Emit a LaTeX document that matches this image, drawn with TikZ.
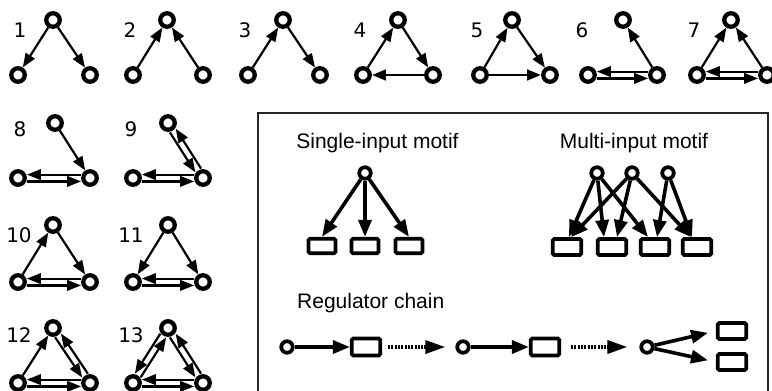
\documentclass[tikz,border=0pt]{standalone}
\usepackage{fontspec}
\setmainfont{DejaVu Sans}
\newfontfamily\helv{Liberation Sans}
\usetikzlibrary{arrows.meta}
\begin{document}
\begin{tikzpicture}[x=1pt,y=-1pt,
  nd/.style={circle,draw,line width=4.3pt,minimum size=13.5pt,inner sep=0pt},
  sn/.style={circle,draw,line width=3.8pt,minimum size=11.5pt,inner sep=0pt},
  bx/.style={rectangle,draw,line width=3.8pt,rounded corners=1.5pt,minimum width=27pt,minimum height=14.5pt,inner sep=0pt},
  arr/.style={line width=2.2pt,-{Triangle[length=14pt,width=10.5pt]}},
  barr/.style={line width=3.6pt,-{Triangle[length=17pt,width=13pt]}},
  darr/.style={line width=3.6pt,dash pattern=on 2pt off 1.3pt,-{Triangle[length=20pt,width=13pt]}},
  hu/.style={transform canvas={yshift=3.4pt}},
  hd/.style={transform canvas={yshift=-3.4pt}},
  rL/.style={transform canvas={xshift=-2.9pt,yshift=-1.85pt}},
  rR/.style={transform canvas={xshift=2.9pt,yshift=1.85pt}},
  lL/.style={transform canvas={xshift=-2.9pt,yshift=1.85pt}},
  lR/.style={transform canvas={xshift=2.9pt,yshift=-1.85pt}},
  lab/.style={font=\fontsize{20}{23}\selectfont,inner sep=0pt},
  ttl/.style={font=\helv\fontsize{21}{24}\selectfont,inner sep=0pt}
]
\useasboundingbox (0,0) rectangle (772,391);
% box
\draw[line width=1.3pt,black!85] (258,113) rectangle (768,420);

% triad nodes: id / top x / top y / left x / right x / bottom y / label x / label y
\foreach \n/\tx/\ty/\lx/\rx/\by/\ax/\ay in {
  1/53/20/18/90/75/20/30, 2/167/20/133/203/75/130/30, 3/283/20/248/320/75/245/30,
  4/398/20/363/433/75/360/30, 5/512/20/480/550/75/477/30, 6/623/20/588/657/75/582/30,
  7/731/20/697/767/75/694/30,
  8/55/123/18/90/178/20/129, 9/168/123/133/203/178/131/129,
  10/53/225/18/90/282/19/235, 11/168/225/133/203/282/131/235,
  12/53/328/18/90/383/19/335, 13/168/328/133/203/383/131/335}{
  \node[nd] (m\n t) at (\tx,\ty) {};
  \node[nd] (m\n l) at (\lx,\by) {};
  \node[nd] (m\n r) at (\rx,\by) {};
  \node[lab] (k\n) at (\ax,\ay) {\n};
}
% motif 1
\draw[arr] (m1t) -- (m1l); \draw[arr] (m1t) -- (m1r);
% motif 2
\draw[arr] (m2l) -- (m2t); \draw[arr] (m2r) -- (m2t);
% motif 3
\draw[arr] (m3l) -- (m3t); \draw[arr] (m3t) -- (m3r);
% motif 4
\draw[arr] (m4l) -- (m4t); \draw[arr] (m4t) -- (m4r); \draw[arr,line width=2.8pt] (m4r) -- (m4l);
% motif 5
\draw[arr] (m5l) -- (m5t); \draw[arr] (m5t) -- (m5r); \draw[arr,line width=2.8pt] (m5l) -- (m5r);
% motif 6
\draw[arr] (m6r) -- (m6t);
\draw[arr,hu] (m6r) -- (m6l); \draw[arr,hd] (m6l) -- (m6r);
% motif 7
\draw[arr] (m7l) -- (m7t); \draw[arr] (m7r) -- (m7t);
\draw[arr,hu] (m7r) -- (m7l); \draw[arr,hd] (m7l) -- (m7r);
% motif 8
\draw[arr] (m8t) -- (m8r);
\draw[arr,hu] (m8r) -- (m8l); \draw[arr,hd] (m8l) -- (m8r);
% motif 9
\draw[arr,rL] (m9t) -- (m9r); \draw[arr,rR] (m9r) -- (m9t);
\draw[arr,hu] (m9r) -- (m9l); \draw[arr,hd] (m9l) -- (m9r);
% motif 10
\draw[arr] (m10l) -- (m10t); \draw[arr] (m10t) -- (m10r);
\draw[arr,hu] (m10r) -- (m10l); \draw[arr,hd] (m10l) -- (m10r);
% motif 11
\draw[arr] (m11t) -- (m11l); \draw[arr] (m11t) -- (m11r);
\draw[arr,hu] (m11r) -- (m11l); \draw[arr,hd] (m11l) -- (m11r);
% motif 12
\draw[arr] (m12l) -- (m12t);
\draw[arr,rL] (m12t) -- (m12r); \draw[arr,rR] (m12r) -- (m12t);
\draw[arr,hu] (m12r) -- (m12l); \draw[arr,hd] (m12l) -- (m12r);
% motif 13
\draw[arr,lL] (m13t) -- (m13l); \draw[arr,lR] (m13l) -- (m13t);
\draw[arr,rL] (m13t) -- (m13r); \draw[arr,rR] (m13r) -- (m13t);
\draw[arr,hu] (m13r) -- (m13l); \draw[arr,hd] (m13l) -- (m13r);

% titles
\node[ttl] (t1) at (377.5,143) {Single-input motif};
\node[ttl] (t2) at (634,143) {Multi-input motif};
\node[ttl,anchor=west] (t3) at (297,303) {Regulator chain};

% single-input motif
\node[sn] (s0) at (365,173) {};
\node[bx] (s1) at (322,246) {};
\node[bx] (s2) at (365,246) {};
\node[bx] (s3) at (409,246) {};
\draw[barr] (s0) -- (s1.north);
\draw[barr] (s0) -- (s2.north);
\draw[barr] (s0) -- (s3.north);

% multi-input motif
\node[sn] (u1) at (597,173) {};
\node[sn] (u2) at (632,173) {};
\node[sn] (u3) at (668,173) {};
\node[bx,minimum width=28.5pt,minimum height=16pt] (p1) at (567,247) {};
\node[bx,minimum width=28.5pt,minimum height=16pt] (p2) at (612,247) {};
\node[bx,minimum width=28.5pt,minimum height=16pt] (p3) at (655,247) {};
\node[bx,minimum width=28.5pt,minimum height=16pt] (p4) at (697,247) {};
\draw[barr] (u1) -- ([xshift=2pt]p1.north);
\draw[barr] (u1) -- ([xshift=-8pt]p2.north);
\draw[barr] (u1) -- ([xshift=-7pt]p3.north);
\draw[barr] (u2) -- ([xshift=4pt]p1.north);
\draw[barr] (u2) -- ([xshift=5pt]p2.north);
\draw[barr] (u2) -- ([xshift=-6pt]p4.north);
\draw[barr] (u3) -- ([xshift=2pt]p3.north);
\draw[barr] (u3) -- ([xshift=-5pt]p4.north);

% regulator chain
\node[sn] (c1) at (287,347) {};
\node[bx,minimum width=28.5pt,minimum height=17pt] (q1) at (366,347) {};
\node[sn] (c2) at (463,347) {};
\node[bx,minimum width=28.5pt,minimum height=17pt] (q2) at (545,347) {};
\node[sn] (c3) at (647,347) {};
\node[bx,minimum width=28.5pt,minimum height=16pt] (q3) at (732,331) {};
\node[bx,minimum width=28.5pt,minimum height=16pt] (q4) at (732,362) {};
\draw[barr] (c1) -- (q1);
\draw[darr,shorten <=6pt,shorten >=10pt] (q1) -- (c2);
\draw[barr] (c2) -- (q2);
\draw[darr,shorten <=10pt,shorten >=12pt] (q2) -- (c3);
\draw[barr,shorten >=8pt] (c3) -- (q3.west);
\draw[barr,shorten >=8pt] (c3) -- (q4.west);
\end{tikzpicture}
\end{document}
